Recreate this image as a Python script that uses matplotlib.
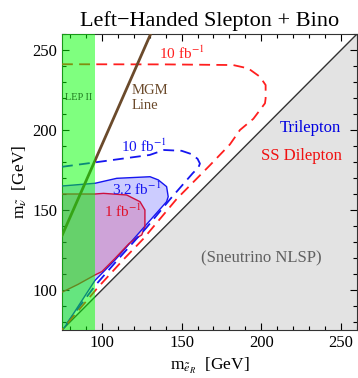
import matplotlib
matplotlib.use("Agg")
import matplotlib.pyplot as plt
from matplotlib.ticker import MultipleLocator

plt.rcParams['font.family'] = ['Liberation Serif', 'DejaVu Serif']
plt.rcParams['mathtext.fontset'] = 'stix'

# axis range (GeV)
lims = [75, 260]

# LEP II excluded band
lep_x = [75, 95.7]

# MGM line
mgm_x = [75, 130.6]
mgm_y = [134, 260]

# Trilepton 3.2 fb^-1 region
tri32_x = [75, 95.7, 109.3, 130.2, 135.4, 140.6, 141.6, 140.6, 108.5, 95.7, 76.5, 75]
tri32_y = [165, 166.7, 169.8, 170.8, 168.8, 164.6, 158.3, 155.2, 119, 106, 76.5, 75]

# SS dilepton 1 fb^-1 region
ss1_x = [75, 95.7, 101, 115.5, 123.9, 127, 127, 125, 121, 117, 108, 100, 95.7, 85, 75]
ss1_y = [160, 160, 160.4, 159.4, 155.2, 150, 139.6, 134.4, 132, 129, 119.5, 111.5, 109.4, 103.5, 98.6]

# Trilepton 10 fb^-1 reach (dashed)
tri10_x = [75, 96, 130, 139, 150, 156, 160, 161.5, 160.5, 157, 150, 143, 128, 110, 96, 75]
tri10_y = [177, 179.8, 184.4, 187.5, 187, 185, 182, 179, 176.5, 173, 165, 157, 139, 119, 103, 75]

# SS dilepton 10 fb^-1 reach (dashed)
ss10_x = [75, 140, 182.3, 191.8, 199.1, 202.7, 202.7, 202.3, 195, 186.6, 180.3, 167.8, 147, 126, 113.5, 97, 75]
ss10_y = [241.1, 241, 240.6, 238.5, 233.3, 228.1, 219.8, 216.7, 207, 200, 191, 178, 157, 132, 119, 101, 75]

red = '#FF1F1F'
blue = '#1515F0'

fig = plt.figure(figsize=(3.58, 3.78), dpi=100)
ax = fig.add_axes([62/358, 48/378, 295/358, 296/378])

# sneutrino NLSP triangle
ax.fill_between(lims, lims, lims[0], color='#E3E3E3', zorder=0)
ax.plot(lims, lims, color='#333333', lw=1, zorder=1)

# filled regions
ax.fill(tri32_x, tri32_y, color=(0, 0, 1, 0.2), lw=0, zorder=2)
ax.plot(tri32_x, tri32_y, color=blue, lw=1, zorder=3)
ax.fill(ss1_x, ss1_y, color=(0.85, 0.0, 0.25, 0.2), lw=0, zorder=2)
ax.plot(ss1_x, ss1_y, color='#CC1040', lw=1, zorder=3)

# dashed reach curves
ax.plot(tri10_x, tri10_y, color=blue, lw=1.3, dashes=(6, 3.5), zorder=4)
ax.plot(ss10_x, ss10_y, color=red, lw=1.3, dashes=(6, 3.5), zorder=4)

# MGM line
ax.plot(mgm_x, mgm_y, color='#6B4A2B', lw=2, zorder=5)

# LEP II band
ax.axvspan(lep_x[0], lep_x[1], color=(0, 1, 0, 0.5), lw=0, zorder=6)

# labels
ax.text(85.5, 220, 'LEP II', color='#1E7A1E', fontsize=7.5, ha='center', va='center', zorder=7)
ax.text(118.5, 220, 'MGM\nLine', color='#6B4A2B', fontsize=10.5, ha='left', va='center',
        linespacing=1.15, zorder=7)
ax.text(150.4, 248, r'10 fb$^{-1}$', color=red, fontsize=11, ha='center', va='center', zorder=7)
ax.text(126, 189.6, r'10 fb$^{-1}$', color=blue, fontsize=11, ha='center', va='center', zorder=7)
ax.text(122, 163, r'3.2 fb$^{-1}$', color=blue, fontsize=11, ha='center', va='center', zorder=7)
ax.text(113, 149, r'1 fb$^{-1}$', color='#E0102A', fontsize=11, ha='center', va='center', zorder=7)
ax.text(231, 201, 'Trilepton', color='#0000E0', fontsize=12, ha='center', va='center', zorder=7)
ax.text(225, 184, 'SS Dilepton', color='#F01010', fontsize=12, ha='center', va='center', zorder=7)
ax.text(200, 120, '(Sneutrino NLSP)', color='#606060', fontsize=12, ha='center', va='center', zorder=7)

ax.set_xlim(lims)
ax.set_ylim(lims)
ax.xaxis.set_major_locator(MultipleLocator(50))
ax.yaxis.set_major_locator(MultipleLocator(50))
ax.xaxis.set_minor_locator(MultipleLocator(10))
ax.yaxis.set_minor_locator(MultipleLocator(10))
ax.tick_params(which='both', direction='in', top=True, right=True, labelsize=12, width=0.8)
ax.tick_params(which='major', length=5)
ax.tick_params(which='minor', length=3)
for s in ax.spines.values():
    s.set_color('#333333')

ax.set_xlabel(r'm$_{\tilde{e}_R}$  [GeV]', fontsize=12.5, labelpad=4)
ax.set_ylabel(r'm$_{\tilde{\nu}}$  [GeV]', fontsize=12.5, labelpad=2)
ax.set_title('Left\u2212Handed Slepton + Bino', fontsize=16, pad=6)

fig.savefig('out.png', dpi=100)
